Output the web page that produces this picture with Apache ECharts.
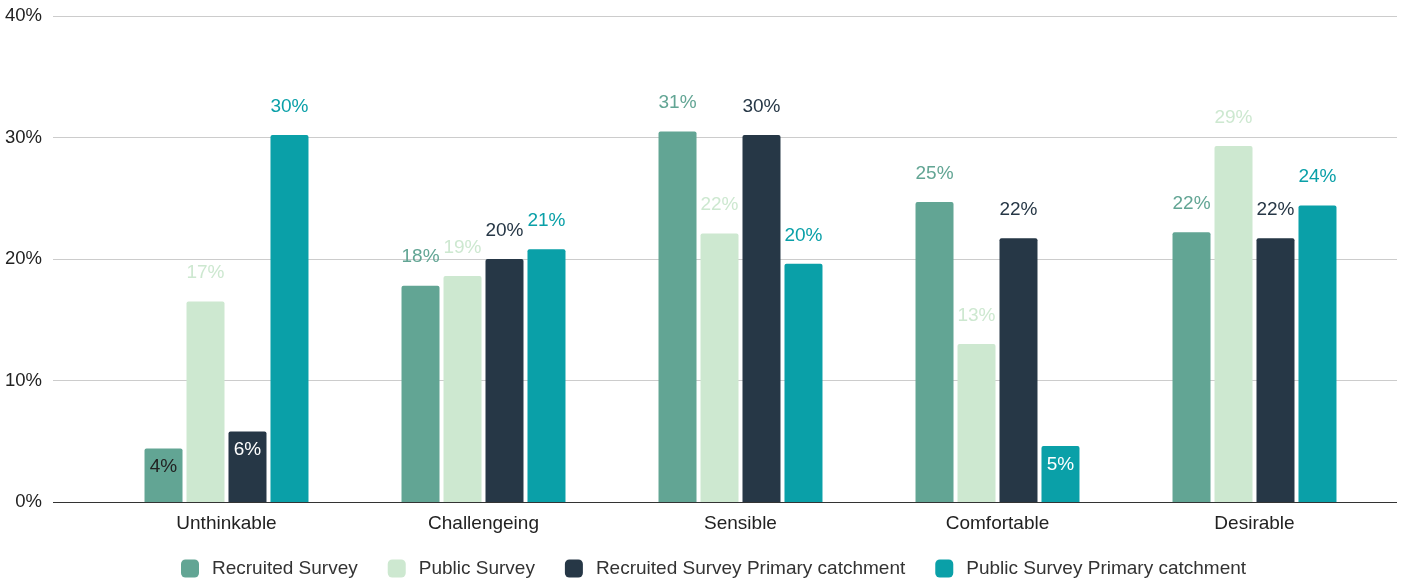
<!DOCTYPE html>
<html>
<head>
<meta charset="utf-8">
<script src="https://cdn.jsdelivr.net/npm/echarts@6/dist/echarts.min.js"></script>
<style>
  html, body { margin: 0; padding: 0; background: #fff; }
  #main { width: 1407px; height: 580px; }
</style>
</head>
<body>
<div id="main"></div>
<script>
// 类别与数据
var categories = ['Unthinkable', 'Challengeing', 'Sensible', 'Comfortable', 'Desirable'];
var seriesNames = ['Recruited Survey', 'Public Survey', 'Recruited Survey Primary catchment', 'Public Survey Primary catchment'];
var recruited = [4.4, 17.8, 30.5, 24.7, 22.2];
var publicSurvey = [16.5, 18.6, 22.1, 13.0, 29.3];
var recruitedPC = [5.8, 20.0, 30.2, 21.7, 21.7];
var publicPC = [30.2, 20.8, 19.6, 4.6, 24.4];
var yTicks = [0, 10, 20, 30, 40];

var colors = ['#62a594', '#cde8d0', '#263746', '#0aa0a8'];

// 小柱子的标签放在柱子里面
var insideLabels = {
    '0-0': '#222',
    '2-0': '#fff',
    '3-3': '#fff'
};

function buildData(arr, si) {
    return arr.map(function (v, ci) {
        var c = insideLabels[si + '-' + ci];
        if (c) {
            return { value: v, label: { position: 'insideTop', distance: 9, color: c } };
        }
        return v;
    });
}

var allData = [recruited, publicSurvey, recruitedPC, publicPC];

var myChart = echarts.init(document.getElementById('main'));

var option = {
    animation: false,
    textStyle: { fontFamily: 'Liberation Sans, Arial, sans-serif' },
    grid: [
        { left: 53, right: 10, top: 16, bottom: 78 },
        { left: 98, right: 24, top: 16, bottom: 78 }
    ],
    legend: {
        top: 554,
        left: 176,
        itemWidth: 18,
        itemHeight: 18,
        itemGap: 30,
        icon: 'roundRect',
        textStyle: { fontSize: 19, color: '#333', padding: [0, 0, 0, 8] },
        data: seriesNames
    },
    xAxis: [
        { type: 'value', gridIndex: 0, show: false, min: 0, max: 1 },
        {
            type: 'category',
            gridIndex: 1,
            data: categories,
            axisLine: { show: false },
            axisTick: { show: false },
            axisLabel: { fontSize: 19, color: '#222', margin: 12 }
        }
    ],
    yAxis: [
        {
            type: 'value',
            gridIndex: 0,
            min: 0,
            max: 40,
            interval: 10,
            axisLine: { show: false },
            axisTick: { show: false },
            axisLabel: {
                fontSize: 18.5,
                color: '#222',
                margin: 11,
                padding: [4, 0, 0, 0],
                formatter: function (v) { return yTicks.indexOf(v) >= 0 ? v + '%' : ''; }
            },
            splitLine: { lineStyle: { color: '#ccc', width: 1 } }
        },
        {
            type: 'value',
            gridIndex: 1,
            min: 0,
            max: 40,
            interval: 10,
            show: false
        }
    ],
    series: seriesNames.map(function (name, i) {
        return {
            name: name,
            type: 'bar',
            xAxisIndex: 1,
            yAxisIndex: 1,
            barWidth: 38,
            barGap: '10.5%',
            itemStyle: { color: colors[i], borderRadius: [2, 2, 0, 0] },
            label: {
                show: true,
                position: 'top',
                distance: 19,
                fontSize: 19,
                color: colors[i],
                formatter: function (p) { return Math.round(p.value) + '%'; }
            },
            data: buildData(allData[i], i)
        };
    }).concat([{
        // 底部的黑色基线
        type: 'line',
        xAxisIndex: 0,
        yAxisIndex: 0,
        silent: true,
        symbol: 'none',
        lineStyle: { width: 0 },
        data: [],
        markLine: {
            silent: true,
            symbol: 'none',
            label: { show: false },
            lineStyle: { color: '#333', width: 1, type: 'solid' },
            data: [{ yAxis: 0 }]
        }
    }])
};

myChart.setOption(option);
</script>
</body>
</html>
